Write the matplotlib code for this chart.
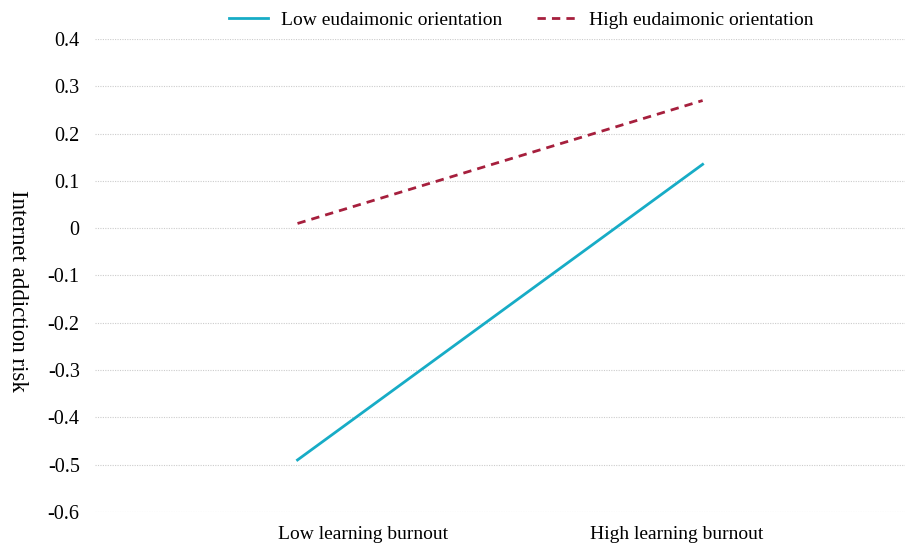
import matplotlib.pyplot as plt

# simple slopes data
categories = ['Low learning burnout', 'High learning burnout']
low_eud = [-0.49, 0.135]
high_eud = [0.01, 0.27]
yticks = [0.4, 0.3, 0.2, 0.1, 0, -0.1, -0.2, -0.3, -0.4, -0.5, -0.6]

plt.rcParams['font.family'] = ['Liberation Serif', 'DejaVu Serif']

fig = plt.figure(figsize=(9.07, 5.45), dpi=100)
ax = fig.add_axes([0.1047, 0.0606, 0.8933, 0.8678])

x = [0.5, 1.5]
ax.plot(x, low_eud, color='#17acc6', lw=2, label='Low eudaimonic orientation')
ax.plot(x, high_eud, color='#a61f3d', lw=2, ls=(0, (3, 2.2)), label='High eudaimonic orientation')

ax.set_xlim(0, 2)
ax.set_ylim(-0.6, 0.4)
# category labels sit a bit off the line ends in the original
ax.set_xticks([0.662, 1.435])
ax.set_xticklabels(categories, fontsize=14)
ax.set_yticks(yticks)
ax.set_yticklabels([('%g' % v) for v in yticks], fontsize=14.5)
ax.tick_params(length=0, pad=10)
ax.tick_params(axis='y', pad=11)
for s in ax.spines.values():
    s.set_visible(False)
ax.grid(axis='y', color='#cccccc', ls=(0, (1, 1.2)), lw=0.8)
ax.set_axisbelow(True)
ax.set_ylabel('Internet addiction risk', fontsize=16.5, rotation=-90, va='center')
ax.yaxis.set_label_coords(-0.095, 0.468)

ax.legend(loc='lower center', bbox_to_anchor=(0.526, 1.0), ncol=2, frameon=False,
          fontsize=14, handlelength=2.0, handletextpad=0.65, columnspacing=1.8,
          borderaxespad=0.1)

fig.savefig('out.png')
